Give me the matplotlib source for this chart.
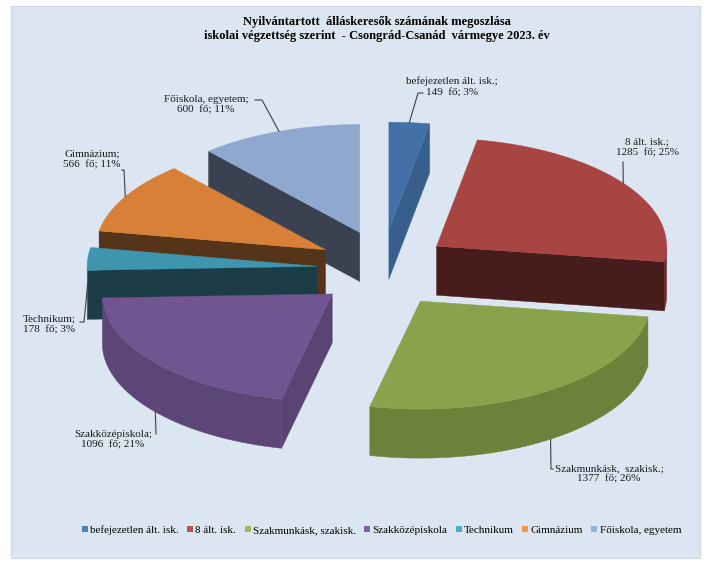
import numpy as np
import matplotlib
matplotlib.use('Agg')
import matplotlib.pyplot as plt
from matplotlib.patches import Polygon, Rectangle

# ---------------- data ----------------
categories = ['befejezetlen ált. isk.', '8 ált. isk.', 'Szakmunkásk, szakisk.',
              'Szakközépiskola', 'Technikum', 'Gimnázium', 'Főiskola, egyetem']
values = [149, 1285, 1377, 1096, 178, 566, 600]
label_names = ['befejezetlen ált. isk.;', '8 ált. isk.;', 'Szakmunkásk,  szakisk.;',
               'Szakközépiskola;', 'Technikum;', 'Gimnázium;', 'Főiskola, egyetem;']
percent_labels = ['3%', '25%', '26%', '21%', '3%', '11%', '11%']
unit = 'fő'
title_lines = ['Nyilvántartott  álláskeresők számának megoszlása',
               'iskolai végzettség szerint  - Csongrád-Csanád  vármegye 2023. év']

# ---------------- style ----------------
top_colors = ['#4470A8', '#A84543', '#88A34C', '#715590', '#3E96AE', '#D98038', '#90A8CF']
face_colors = ['#375E8D', '#461C1C', '#56682F', '#5A4474', '#1C3C47', '#55341A', '#3A4150']
wall_colors = ['#375E8D', '#6E2624', '#6A823A', '#5C4577', '#2E6E80', '#A55E25', '#6A7FA0']
legend_colors = ['#4F81BD', '#C0504D', '#9BBB59', '#8064A2', '#4BACC6', '#F79646', '#95B3D7']
bg_color = '#DCE6F2'

plt.rcParams['font.family'] = ['Liberation Serif', 'DejaVu Serif']

W, H = 712, 565
fig = plt.figure(figsize=(W / 100, H / 100), dpi=100)
ax = fig.add_axes([0, 0, 1, 1])
ax.set_xlim(0, W)
ax.set_ylim(H, 0)
ax.axis('off')

ax.add_patch(Rectangle((11, 6), 689, 552, facecolor=bg_color, edgecolor='#D0D7E0', lw=0.8, zorder=0))

# pie geometry (pixels)
CX, CY = 383, 269
RX, RY = 230, 108
DEPTH = 49
EX, EY = 66, 39

total = float(sum(values))
fracs = np.array(values) / total
bounds = np.concatenate([[0], np.cumsum(fracs)]) * 2 * np.pi
starts, ends = bounds[:-1], bounds[1:]
mids = (starts + ends) / 2


def apex_of(m):
    return np.array([CX + EX * np.sin(m), CY - EY * np.cos(m)])


def outer(ap, th, dz=0.0):
    th = np.asarray(th)
    return np.column_stack([ap[0] + RX * np.sin(th), ap[1] - RY * np.cos(th) + dz])


order = np.argsort([apex_of(m)[1] for m in mids])
z = 1
for i in order:
    a, b, m = starts[i], ends[i], mids[i]
    ap = apex_of(m)
    ap_d = ap + np.array([0, DEPTH])
    # start radial face
    if np.sin(a) < -1e-6:
        oa = outer(ap, [a])[0]
        poly = [ap, oa, oa + [0, DEPTH], ap_d]
        ax.add_patch(Polygon(poly, closed=True, facecolor=face_colors[i], edgecolor=face_colors[i], lw=0.3, zorder=z))
    # end radial face
    if np.sin(b) > 1e-6:
        ob = outer(ap, [b])[0]
        poly = [ap, ob, ob + [0, DEPTH], ap_d]
        ax.add_patch(Polygon(poly, closed=True, facecolor=face_colors[i], edgecolor=face_colors[i], lw=0.3, zorder=z))
    # outer wall (front part)
    lo, hi = max(a, np.pi / 2), min(b, 3 * np.pi / 2)
    if hi > lo:
        th = np.linspace(lo, hi, 120)
        topc = outer(ap, th)
        botc = outer(ap, th[::-1], DEPTH)
        ax.add_patch(Polygon(np.vstack([topc, botc]), closed=True, facecolor=wall_colors[i],
                             edgecolor=wall_colors[i], lw=0.3, zorder=z))
    # top face
    th = np.linspace(a, b, 200)
    pts = np.vstack([ap[None, :], outer(ap, th)])
    ax.add_patch(Polygon(pts, closed=True, facecolor=top_colors[i], edgecolor=top_colors[i], lw=0.3, zorder=z + 1))
    z += 2

# ---------------- data labels ----------------
label_pos = [(452, 87), (647, 148), (609, 474), (113, 440), (49, 325), (92, 160), (206, 105)]
leader_start = [(423, 93), (623, 162), (553, 469), (156, 434), (80, 322), (122, 170), (255, 100)]
leader_elbow = [(418, 93), (623, 162), (551, 469), (156, 434), (84, 322), (124, 170), (262, 100)]
leader_depth = [0, 0, 1, 1, 0.5, 0, 0]

for i in range(len(values)):
    ap = apex_of(mids[i])
    end = outer(ap, [mids[i]], DEPTH * leader_depth[i])[0]
    xs = [leader_start[i][0], leader_elbow[i][0], end[0]]
    ys = [leader_start[i][1], leader_elbow[i][1], end[1]]
    ax.plot(xs, ys, color='#404040', lw=0.8, zorder=50)
    txt = f'{label_names[i]}\n{values[i]}  {unit}; {percent_labels[i]}'
    ax.text(label_pos[i][0], label_pos[i][1], txt, ha='center', va='center', fontsize=8,
            color='#1a1a1a', linespacing=1.25, zorder=51)

# ---------------- title ----------------
ax.text(377, 29, '\n'.join(title_lines), ha='center', va='center', fontsize=9,
        fontweight='bold', linespacing=1.2, color='#000000')

# ---------------- legend ----------------
handles = [Rectangle((0, 0), 1, 1, facecolor=c, edgecolor='none') for c in legend_colors]
fig.legend(handles, categories, loc='center', bbox_to_anchor=(381.5 / W, 1 - 530 / H), ncol=7,
           frameon=False, fontsize=8, handlelength=0.55, handleheight=0.55, handletextpad=0.2,
           columnspacing=0.75, borderaxespad=0)

fig.savefig('out.png', dpi=100, facecolor='white')
